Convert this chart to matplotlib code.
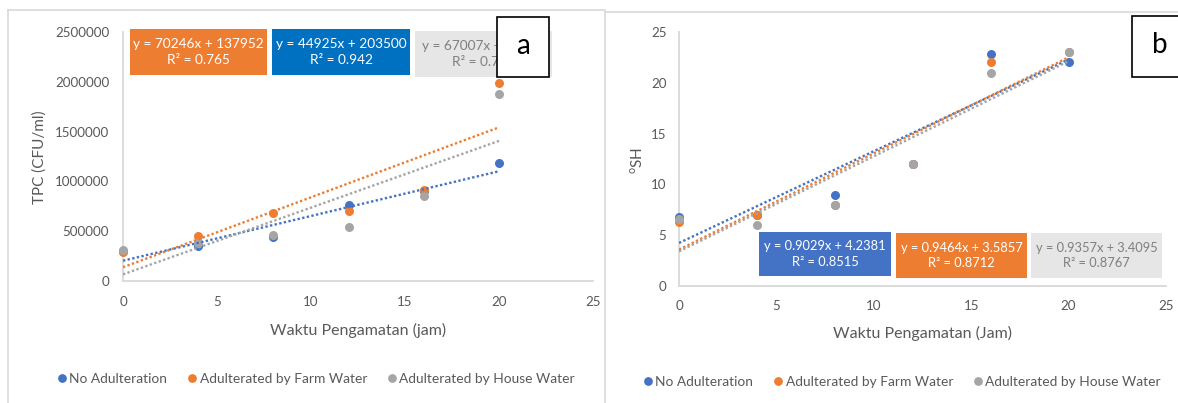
import matplotlib
matplotlib.use("Agg")
import matplotlib.pyplot as plt
from matplotlib.patches import Rectangle
from matplotlib.lines import Line2D

plt.rcParams['font.family'] = ['Lato', 'DejaVu Sans']

# ---------------- data ----------------
hours = [0, 4, 8, 12, 16, 20]
series_names = ["No Adulteration", "Adulterated by Farm Water", "Adulterated by House Water"]

tpc_no = [300000, 350000, 440000, 760000, 900000, 1180000]
tpc_farm = [290000, 450000, 680000, 700000, 910000, 1990000]
tpc_house = [310000, 380000, 460000, 540000, 850000, 1880000]

sh_no = [6.8, 7.0, 9.0, 12.0, 22.8, 22.0]
sh_farm = [6.3, 7.0, 8.0, 12.0, 22.0, 23.0]
sh_house = [6.6, 6.0, 8.0, 12.0, 21.0, 23.0]

# trendline coefficients (slope, intercept, R2) as printed
tpc_fit_no = (44925, 203500, "0.942")
tpc_fit_farm = (70246, 137952, "0.765")
tpc_fit_house = (67007, 66600, "0.766")
sh_fit_no = (0.9029, 4.2381, "0.8515")
sh_fit_farm = (0.9464, 3.5857, "0.8712")
sh_fit_house = (0.9357, 3.4095, "0.8767")

tpc_yticks = [0, 500000, 1000000, 1500000, 2000000, 2500000]
sh_yticks = [0, 5, 10, 15, 20, 25]
x_ticks = [0, 5, 10, 15, 20, 25]

# ---------------- style ----------------
BLUE = "#4472C4"
ORANGE = "#ED7D31"
GRAY = "#A5A5A5"
DARKBLUE = "#0070C0"
BOXGRAY = "#E7E6E6"
TXT = "#595959"
AXC = "#D9D9D9"

W, H = 1178, 403
fig = plt.figure(figsize=(W / 100, H / 100), dpi=100)
fig.patch.set_facecolor("white")


def px_axes(x0, y0, x1, y1):
    return fig.add_axes([x0 / W, 1 - y1 / H, (x1 - x0) / W, (y1 - y0) / H])


def style_axes(ax, ylim, yticks, xpad, ypad):
    ax.set_xlim(0, 25)
    ax.set_ylim(*ylim)
    ax.set_xticks(x_ticks)
    ax.set_yticks(yticks)
    for s in ["top", "right"]:
        ax.spines[s].set_visible(False)
    for s in ["left", "bottom"]:
        ax.spines[s].set_color(AXC)
        ax.spines[s].set_linewidth(1.3)
    ax.tick_params(axis="both", length=0, labelcolor=TXT, labelsize=9.6)
    ax.tick_params(axis="x", pad=xpad)
    ax.tick_params(axis="y", pad=ypad)
    ax.set_facecolor("none")


def draw_series(ax, ys, fits):
    cols = [BLUE, ORANGE, GRAY]
    for y, c, n in zip(ys, cols, series_names):
        ax.scatter(hours, y, s=42, color=c, zorder=3, label=n, linewidths=0,
                   clip_on=False)
    for (m, b, _), c in zip(fits, cols):
        xs = [min(hours), max(hours)]
        ax.plot(xs, [m * x + b for x in xs], color=c, lw=1.7,
                linestyle=(0, (1, 1)), zorder=4, dash_capstyle="butt")


# left panel
axL = px_axes(123, 32, 593, 281)
style_axes(axL, (0, 2500000), tpc_yticks, 11, 10)
axL.ticklabel_format(style="plain", axis="y")
draw_series(axL, [tpc_no, tpc_farm, tpc_house], [tpc_fit_no, tpc_fit_farm, tpc_fit_house])
axL.set_xlabel("Waktu Pengamatan (jam)", color=TXT, fontsize=11.5, va="center")
axL.xaxis.set_label_coords(0.5, -0.197)
axL.set_ylabel("TPC (CFU/ml)", color=TXT, fontsize=11, va="center")
axL.yaxis.set_label_coords(-0.177, 0.498)

# right panel
axR = px_axes(679, 32, 1166, 286)
style_axes(axR, (0, 25), sh_yticks, 10, 9)
draw_series(axR, [sh_no, sh_farm, sh_house], [sh_fit_no, sh_fit_farm, sh_fit_house])
axR.set_xlabel("Waktu Pengamatan (Jam)", color=TXT, fontsize=11.5, va="center")
axR.xaxis.set_label_coords(0.501, -0.185)
axR.set_ylabel("$^{\\mathregular{o}}$SH", color=TXT, fontsize=11, va="center")
axR.yaxis.set_label_coords(-0.086, 0.496)

# legends
for ax, cx, cy in [(axL, 315, 379), (axR, 901, 382)]:
    handles = [Line2D([], [], marker="o", linestyle="none", markersize=6.3,
                      markerfacecolor=c, markeredgewidth=0)
               for c in [BLUE, ORANGE, GRAY]]
    fig.legend(handles, series_names, loc="center", ncol=3, frameon=False,
               bbox_to_anchor=(cx / W, 1 - cy / H), fontsize=9.9,
               labelcolor=TXT, handletextpad=0.05, columnspacing=1.3,
               handlelength=1.0, borderaxespad=0)

# overlay (panel frames, equation labels, panel letters)
ov = fig.add_axes([0, 0, 1, 1], zorder=10)
ov.set_xlim(0, W)
ov.set_ylim(H, 0)
ov.axis("off")
ov.patch.set_alpha(0)

# panel frames
ov.plot([8, 605], [10, 10], color=AXC, lw=1.2)
ov.plot([8, 8], [10, H], color=AXC, lw=1.2)
ov.plot([605, W], [12, 12], color=AXC, lw=1.2)
ov.plot([605, 605], [12, H], color=AXC, lw=1.2)


def eq_label(x0, y0, x1, y1, fit, fc, tc, fmt, fs, clip_x=None):
    m, b, r2 = fit
    ov.add_patch(Rectangle((x0, y0), x1 - x0, y1 - y0, facecolor=fc,
                           edgecolor="none", zorder=2))
    t = ov.text((x0 + x1) / 2, (y0 + y1) / 2,
                ("y = " + fmt + "x + " + fmt).format(m, b) + "\nR² = " + r2,
                ha="center", va="center", color=tc, fontsize=fs,
                linespacing=1.35, zorder=3)
    if clip_x is not None:
        clip = Rectangle((x0, y0), clip_x - x0, y1 - y0, transform=ov.transData)
        t.set_clip_path(clip)


eq_label(130, 29, 267, 75, tpc_fit_farm, ORANGE, "white", "{:.0f}", 9.8)
eq_label(272, 29, 410, 75, tpc_fit_no, DARKBLUE, "white", "{:.0f}", 9.8)
eq_label(415, 31, 552, 77, tpc_fit_house, BOXGRAY, "#7F7F7F", "{:.0f}", 9.8, clip_x=497)
eq_label(759, 232, 891, 276, sh_fit_no, BLUE, "white", "{:.4f}", 9.3)
eq_label(896, 233, 1027, 278, sh_fit_farm, ORANGE, "white", "{:.4f}", 9.3)
eq_label(1031, 233, 1162, 278, sh_fit_house, BOXGRAY, "#7F7F7F", "{:.4f}", 9.3)

# panel letters
ov.add_patch(Rectangle((497, 17), 52, 60, facecolor="white", edgecolor="black", lw=1.2, zorder=5))
ov.text(523, 46, "a", ha="center", va="center", fontsize=20, color="black", zorder=6)
ov.add_patch(Rectangle((1132, 16), 60, 61, facecolor="white", edgecolor="black", lw=1.2, zorder=5))
ov.text(1160, 45, "b", ha="center", va="center", fontsize=20, color="black", zorder=6)

fig.savefig("out.png", dpi=100, facecolor="white")
